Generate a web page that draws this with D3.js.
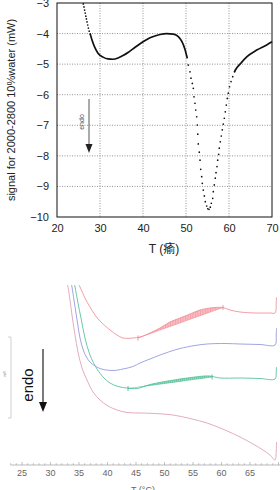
<!DOCTYPE html>
<html>
<head>
<meta charset="utf-8">
<script src="https://cdnjs.cloudflare.com/ajax/libs/d3/7.8.5/d3.min.js"></script>
<style>
  html, body { margin: 0; padding: 0; background: #fff; }
  svg { display: block; }
</style>
</head>
<body>
<svg id="chart" width="280" height="490"></svg>
<script>
// ---- top panel: DSC trace (dotted where steep, solid where flat) ----
const rampT = [26.12, 26.28, 26.42, 26.56, 26.70, 26.84, 26.98, 27.14, 27.30, 27.49, 27.72];
const rampS = [-3.03, -3.13, -3.23, -3.33, -3.43, -3.52, -3.62, -3.72, -3.82, -3.92, -4.01];

const baseT1 = [27.72, 28.14, 28.84, 29.53, 30.70, 31.86, 33.02, 34.19, 35.35, 36.51, 37.67, 38.84, 40.00, 41.63, 43.95, 45.51, 47.05, 48.21, 49.00, 49.77, 50.30];
const baseS1 = [-4.01, -4.21, -4.47, -4.64, -4.77, -4.83, -4.84, -4.80, -4.72, -4.62, -4.50, -4.38, -4.27, -4.14, -4.03, -4.00, -4.02, -4.10, -4.25, -4.52, -4.81];

const peakT = [50.53, 50.93, 51.16, 51.47, 51.70, 51.86, 52.09, 52.26, 52.49, 52.63, 52.74, 52.86, 53.09, 53.26, 53.42, 53.65, 53.79, 54.02, 54.26, 54.49, 54.81, 55.05, 55.35, 55.65, 55.88, 56.21, 56.35, 56.58, 56.81, 56.98, 57.21, 57.37, 57.60, 57.74, 57.98, 58.21, 58.44, 58.67, 58.91, 59.14, 59.37, 59.60, 59.84, 60.12, 60.47, 60.86, 61.28];
const peakS = [-5.03, -5.25, -5.46, -5.63, -5.79, -6.07, -6.28, -6.50, -6.72, -6.99, -7.29, -7.61, -7.88, -8.14, -8.44, -8.68, -8.90, -9.12, -9.31, -9.50, -9.64, -9.73, -9.75, -9.68, -9.55, -9.39, -9.17, -8.95, -8.73, -8.55, -8.35, -8.14, -7.95, -7.75, -7.54, -7.35, -7.15, -6.96, -6.77, -6.56, -6.34, -6.12, -5.95, -5.74, -5.57, -5.41, -5.25];

const baseT2 = [61.28, 61.63, 62.56, 64.12, 66.44, 68.77, 70.0];
const baseS2 = [-5.25, -5.16, -5.00, -4.76, -4.54, -4.37, -4.27];

const topXTicks = [20, 30, 40, 50, 60, 70];
const topYTicks = [-3, -4, -5, -6, -7, -8, -9, -10];

// ---- bottom panel: four thermograms, arbitrary units ----
const pinkT = [34.82, 35.18, 36.05, 36.93, 37.81, 38.68, 40.44, 41.67, 42.72, 44.47, 45.70, 47.46, 49.21, 50.96, 52.72, 54.47, 56.23, 57.46, 58.86, 60.26, 61.49, 63.25, 65.88, 68.51, 69.39, 69.60, 69.65];
const pinkV = [182, 178, 167, 158, 150, 144, 135, 130, 127, 127, 128, 132, 137, 143, 147, 151, 155, 156.5, 157.5, 157.5, 155, 153, 152, 152, 152, 163, 168];

const blueT = [33.60, 33.77, 34.12, 34.47, 34.82, 35.18, 35.88, 36.93, 38.68, 40.96, 42.72, 44.47, 45.70, 47.46, 49.21, 50.96, 52.72, 55.35, 57.46, 60.61, 63.25, 66.75, 69.39, 69.60, 69.65];
const blueV = [182, 178, 165, 152, 139, 127, 113, 103, 96.5, 94.5, 96, 98.5, 102, 106, 110, 113.5, 116.5, 119.5, 121, 121.5, 121, 120.5, 120, 130, 137];

const greenT = [34.12, 34.30, 34.82, 35.35, 36.05, 36.93, 38.16, 39.39, 40.44, 41.84, 43.42, 45.18, 47.46, 50.09, 52.72, 55.35, 57.11, 57.98, 59.74, 63.25, 66.75, 69.39, 69.60, 69.65];
const greenV = [182, 178, 162, 147, 127, 110, 96, 87, 82, 78.5, 77, 76.5, 80.5, 83.5, 86, 88, 89, 89, 87, 87, 86.5, 86, 93, 98];

const mauveT = [32.89, 33.07, 33.42, 33.77, 34.30, 34.82, 35.53, 36.40, 37.46, 38.68, 40.09, 41.67, 43.42, 45.70, 48.33, 51.49, 54.47, 57.46, 60.61, 63.25, 65.53, 67.28, 68.51, 69.39, 69.60, 69.65];
const mauveV = [182, 178, 165, 150, 130, 113, 97, 85, 73, 65, 59, 55, 52.5, 52, 51.5, 50, 46.5, 42, 35, 28, 21, 15, 10, 5, 14, 23];

// integration baselines (start, end)
const pinkBaseT = [45.35, 60.26];
const pinkBaseV = [127, 157.5];
const greenBaseT = [43.60, 58.35];
const greenBaseV = [76.5, 88];

const bottomTicks = [25, 30, 35, 40, 45, 50, 55, 60, 65];

const svg = d3.select("#chart");
const font = "'Liberation Sans', Arial, sans-serif";

// ================= top panel =================
const x1 = d3.scaleLinear().domain([20, 70]).range([57, 272]);
const y1 = d3.scaleLinear().domain([-3, -10]).range([3, 217]);

const topG = svg.append("g");

// dotted grid
topG.append("g").selectAll("line")
  .data(topXTicks.slice(1, -1))
  .join("line")
  .attr("x1", d => x1(d)).attr("x2", d => x1(d))
  .attr("y1", y1(-3)).attr("y2", y1(-10))
  .attr("stroke", "#777").attr("stroke-width", 0.8)
  .attr("stroke-dasharray", "1,1.5");
topG.append("g").selectAll("line")
  .data(topYTicks.slice(1, -1))
  .join("line")
  .attr("x1", x1(20)).attr("x2", x1(70))
  .attr("y1", d => y1(d)).attr("y2", d => y1(d))
  .attr("stroke", "#777").attr("stroke-width", 0.8)
  .attr("stroke-dasharray", "1,1.5");

// frame
topG.append("rect")
  .attr("x", x1(20)).attr("y", y1(-3))
  .attr("width", x1(70) - x1(20)).attr("height", y1(-10) - y1(-3))
  .attr("fill", "none").attr("stroke", "#111").attr("stroke-width", 1);

// axes (labels only)
const ax1 = topG.append("g")
  .attr("transform", `translate(0,${y1(-10)})`)
  .call(d3.axisBottom(x1).tickValues(topXTicks).tickFormat(d3.format("d")).tickSize(0).tickPadding(7));
ax1.select(".domain").remove();
ax1.selectAll("text").style("font-family", font).style("font-size", "11px").attr("fill", "#222");

const ay1 = topG.append("g")
  .attr("transform", `translate(${x1(20)},0)`)
  .call(d3.axisLeft(y1).tickValues(topYTicks).tickFormat(d3.format("d")).tickSize(0).tickPadding(8));
ay1.select(".domain").remove();
ay1.selectAll("text").style("font-family", font).style("font-size", "11px").attr("fill", "#222");

topG.append("text")
  .attr("transform", `translate(15,${(y1(-3) + y1(-10)) / 2}) rotate(-90)`)
  .attr("text-anchor", "middle")
  .style("font-family", font).style("font-size", "11px").attr("fill", "#222")
  .text("signal for 2000-2800 10%water (mW)");

topG.append("text")
  .attr("x", 164).attr("y", 253)
  .attr("text-anchor", "middle")
  .style("font-family", font + ", 'Noto Sans CJK SC'").style("font-size", "12px").attr("fill", "#222")
  .text("T (瘉)");

// endo arrow
topG.append("line")
  .attr("x1", 89).attr("x2", 89).attr("y1", 99).attr("y2", 146)
  .attr("stroke", "#444").attr("stroke-width", 0.9);
topG.append("path")
  .attr("d", "M85.5,144 L92.5,144 L89,153 Z").attr("fill", "#222");
topG.append("text")
  .attr("transform", "translate(84,122) rotate(-90)")
  .attr("text-anchor", "middle")
  .style("font-family", font).style("font-size", "7px").attr("fill", "#555")
  .text("endo");

// trace
const line1 = d3.line().x(d => x1(d[0])).y(d => y1(d[1])).curve(d3.curveMonotoneX);
[[baseT1, baseS1], [baseT2, baseS2]].forEach(([t, s]) => {
  topG.append("path")
    .datum(t.map((v, i) => [v, s[i]]))
    .attr("d", line1)
    .attr("fill", "none").attr("stroke", "#111").attr("stroke-width", 1.7);
});
[[rampT, rampS], [peakT, peakS]].forEach(([t, s]) => {
  topG.append("g").selectAll("circle")
    .data(t.map((v, i) => [v, s[i]]))
    .join("circle")
    .attr("cx", d => x1(d[0])).attr("cy", d => y1(d[1]))
    .attr("r", 0.85).attr("fill", "#111");
});

// ================= bottom panel =================
const x2 = d3.scaleLinear().domain([25, 70]).range([22, 278.5]);
const y2 = d3.scaleLinear().domain([0, 180]).range([465, 285]);

const botG = svg.append("g");

const defs = svg.append("defs");
defs.append("clipPath").attr("id", "clipB")
  .append("rect").attr("x", 0).attr("y", 285).attr("width", 280).attr("height", 180);
const hatch = defs.append("pattern").attr("id", "hatchPink")
  .attr("patternUnits", "userSpaceOnUse").attr("width", 2.5).attr("height", 4);
hatch.append("rect").attr("width", 2.5).attr("height", 4).attr("fill", "#fabcc1");
hatch.append("line").attr("x1", 0.5).attr("x2", 0.5).attr("y1", 0).attr("y2", 4)
  .attr("stroke", "#f08a95").attr("stroke-width", 0.6);
const hatchG = defs.append("pattern").attr("id", "hatchGreen")
  .attr("patternUnits", "userSpaceOnUse").attr("width", 2).attr("height", 4);
hatchG.append("rect").attr("width", 2).attr("height", 4).attr("fill", "#9adcc2");
hatchG.append("line").attr("x1", 0.5).attr("x2", 0.5).attr("y1", 0).attr("y2", 4)
  .attr("stroke", "#4fbb91").attr("stroke-width", 0.6);

const plot = botG.append("g").attr("clip-path", "url(#clipB)");

// shaded integration areas between trace and straight baseline
function shade(tArr, vArr, bT, bV, fill) {
  const base = t => bV[0] + (bV[1] - bV[0]) * (t - bT[0]) / (bT[1] - bT[0]);
  const trace = d3.scaleLinear().domain(tArr.slice(0, -2)).range(vArr.slice(0, -2));
  const pts = [bT[0], ...tArr.filter(t => t > bT[0] && t < bT[1]), bT[1]];
  const area = d3.area()
    .x(t => x2(t)).y0(t => y2(base(t))).y1(t => y2(Math.max(trace(t), base(t))))
    .curve(d3.curveMonotoneX);
  plot.append("path").datum(pts).attr("d", area).attr("fill", fill);
}
shade(pinkT, pinkV, pinkBaseT, pinkBaseV, "url(#hatchPink)");
shade(greenT, greenV, greenBaseT, greenBaseV, "url(#hatchGreen)");

const line2 = d3.line().x(d => x2(d[0])).y(d => y2(d[1])).curve(d3.curveCatmullRom.alpha(0.5));
const traces = [
  [pinkT, pinkV, "#f1939c"],
  [blueT, blueV, "#959be0"],
  [greenT, greenV, "#5cc39c"],
  [mauveT, mauveV, "#e0a3b8"]
];
traces.forEach(([t, v, c]) => {
  plot.append("path")
    .datum(t.map((d, i) => [d, v[i]]))
    .attr("d", line2)
    .attr("fill", "none").attr("stroke", c).attr("stroke-width", 0.9);
});

// baseline lines + end markers
[[pinkBaseT, pinkBaseV, "#ee7d89"], [greenBaseT, greenBaseV, "#3fb488"]].forEach(([bt, bv, c]) => {
  plot.append("line")
    .attr("x1", x2(bt[0])).attr("y1", y2(bv[0])).attr("x2", x2(bt[1])).attr("y2", y2(bv[1]))
    .attr("stroke", c).attr("stroke-width", 0.5);
  bt.forEach((t, i) => {
    plot.append("line")
      .attr("x1", x2(t)).attr("x2", x2(t))
      .attr("y1", y2(bv[i]) - 2.5).attr("y2", y2(bv[i]) + 2.5)
      .attr("stroke", c).attr("stroke-width", 0.8);
  });
});

// scale bracket on the left
botG.append("path")
  .attr("d", "M8,337 L11,337 L11,418 L8,418")
  .attr("fill", "none").attr("stroke", "#c4c4c4").attr("stroke-width", 0.8);
botG.append("text")
  .attr("transform", "translate(6,374) rotate(-90)")
  .attr("text-anchor", "middle")
  .style("font-family", font).style("font-size", "3.5px").attr("fill", "#888")
  .text("mW");

// endo arrow
botG.append("line")
  .attr("x1", 43).attr("x2", 43).attr("y1", 349).attr("y2", 404)
  .attr("stroke", "#333").attr("stroke-width", 1.3);
botG.append("path").attr("d", "M39,402 L47,402 L43,412 Z").attr("fill", "#111");
botG.append("text")
  .attr("transform", "translate(33,385) rotate(-90)")
  .attr("text-anchor", "middle")
  .style("font-family", font).style("font-size", "15px").attr("fill", "#111")
  .text("endo");

// x axis
const ax2 = botG.append("g").attr("transform", "translate(0,465)");
ax2.append("line")
  .attr("x1", x2(23)).attr("x2", x2(70.3)).attr("stroke", "#aaa").attr("stroke-width", 0.8);
ax2.selectAll("line.minor")
  .data(d3.range(23, 71, 1))
  .join("line").attr("class", "minor")
  .attr("x1", d => x2(d)).attr("x2", d => x2(d))
  .attr("y1", 0).attr("y2", d => (d % 5 === 0 ? -3 : -1.8))
  .attr("stroke", "#999").attr("stroke-width", 0.6);
ax2.selectAll("text")
  .data(bottomTicks)
  .join("text")
  .attr("x", d => x2(d)).attr("y", 11)
  .attr("text-anchor", "middle")
  .style("font-family", font).style("font-size", "9px").attr("fill", "#666")
  .text(d => d);
botG.append("text")
  .attr("x", 143).attr("y", 493)
  .attr("text-anchor", "middle")
  .style("font-family", font).style("font-size", "9px").attr("fill", "#666")
  .text("T (°C)");
</script>
</body>
</html>
